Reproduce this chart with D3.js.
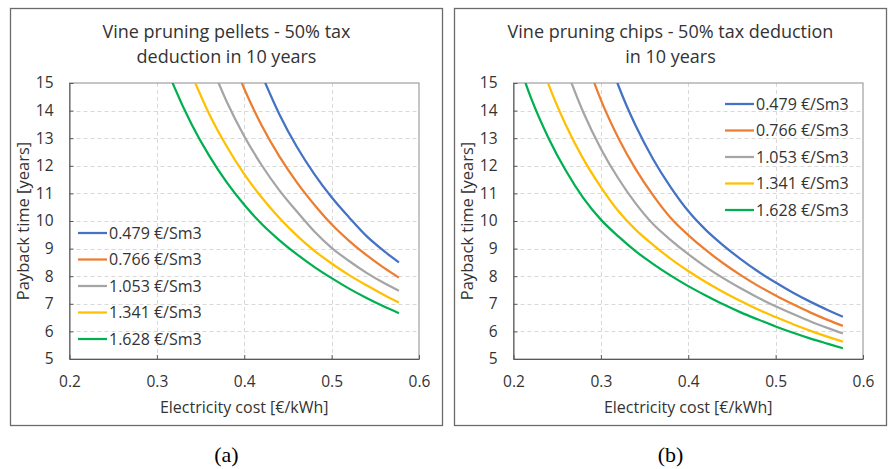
<!DOCTYPE html>
<html>
<head>
<meta charset="utf-8">
<script src="https://cdn.jsdelivr.net/npm/d3@7"></script>
<style>
  body { margin: 0; background: #fff; }
  svg { display: block; font-family: "Open Sans", sans-serif; }
</style>
</head>
<body>
<svg id="chart" width="888" height="469"></svg>
<script>

// values
var seriesNames  = ["0.479 €/Sm3", "0.766 €/Sm3", "1.053 €/Sm3", "1.341 €/Sm3", "1.628 €/Sm3"];
var seriesColors = ["#4472C4", "#ED7D31", "#A5A5A5", "#FFC000", "#00B050"];

var xTicks = [0.2, 0.3, 0.4, 0.5, 0.6];
var yTicks = [5, 6, 7, 8, 9, 10, 11, 12, 13, 14, 15];

// (a) pellets
var pelletsCost   = [0.30, 0.32, 0.34, 0.36, 0.38, 0.40, 0.42, 0.44, 0.46, 0.48, 0.50, 0.52, 0.54, 0.56, 0.577];
var pellets0479   = [null, null, null, null, null, null, 15.30, 13.88, 12.70, 11.71, 10.86, 10.13, 9.45, 8.91, 8.50];
var pellets0766   = [null, null, null, null, 16.41, 14.79, 13.46, 12.35, 11.41, 10.60, 9.88, 9.28, 8.76, 8.30, 7.95];
var pellets1053   = [null, null, null, 15.83, 14.32, 13.07, 12.02, 11.12, 10.35, 9.63, 9.03, 8.55, 8.12, 7.75, 7.47];
var pellets1341   = [null, null, 15.29, 13.87, 12.70, 11.70, 10.85, 10.12, 9.48, 8.93, 8.46, 8.04, 7.67, 7.32, 7.05];
var pellets1628   = [16.51, 14.85, 13.49, 12.36, 11.40, 10.59, 9.89, 9.31, 8.80, 8.34, 7.93, 7.55, 7.21, 6.90, 6.66];

// (b) chips
var chipsCost = [0.20, 0.22, 0.24, 0.26, 0.28, 0.30, 0.32, 0.34, 0.36, 0.38, 0.40, 0.42, 0.44, 0.46, 0.48, 0.50, 0.52, 0.54, 0.56, 0.577];
var chips0479 = [null, null, null, null, null, 16.75, 14.91, 13.44, 12.23, 11.22, 10.36, 9.68, 9.12, 8.62, 8.17, 7.77, 7.40, 7.07, 6.77, 6.53];
var chips0766 = [null, null, null, null, 16.10, 14.39, 13.01, 11.87, 10.92, 10.11, 9.49, 8.95, 8.47, 8.04, 7.65, 7.30, 6.98, 6.68, 6.41, 6.20];
var chips1053 = [null, null, null, 15.53, 13.93, 12.62, 11.54, 10.63, 9.88, 9.31, 8.80, 8.34, 7.93, 7.56, 7.22, 6.91, 6.63, 6.36, 6.12, 5.93];
var chips1341 = [null, 16.83, 14.96, 13.47, 12.24, 11.23, 10.36, 9.68, 9.13, 8.63, 8.19, 7.79, 7.43, 7.10, 6.79, 6.52, 6.26, 6.02, 5.80, 5.63];
var chips1628 = [16.28, 14.46, 13.01, 11.82, 10.83, 10.05, 9.44, 8.90, 8.44, 8.02, 7.64, 7.30, 6.98, 6.69, 6.43, 6.18, 5.95, 5.74, 5.55, 5.39];


var svg = d3.select("#chart");

function drawPanel(ox, id, titleLines, xs, series, legend, caption){

  var g = svg.append("g").attr("transform", "translate(" + ox + ",0)");

  // outer frame
  g.append("rect")
    .attr("x", 10.5).attr("y", 8.5)
    .attr("width", 432).attr("height", 417)
    .attr("fill", "none")
    .attr("stroke", "#6b6b6b")
    .attr("stroke-width", 1.3);

  var left = 69.5, right = 419, top = 83, bottom = 359;

  var x = d3.scaleLinear().domain([0.2, 0.6]).range([left, right]);
  var y = d3.scaleLinear().domain([5, 15]).range([bottom, top]);

  // title
  var t = g.append("text")
    .attr("x", 226.5)
    .attr("text-anchor", "middle")
    .attr("font-size", 18)
    .attr("fill", "#333");
  titleLines.forEach(function(line, i){
    t.append("tspan").attr("x", 226.5).attr("y", 38 + i * 24.5).text(line);
  });

  // grid
  var grid = g.append("g")
    .attr("stroke", "#d9d9d9")
    .attr("stroke-width", 1)
    .attr("stroke-dasharray", "4,3");
  grid.selectAll("line.h")
    .data(yTicks.slice(1, -1))
    .enter().append("line")
      .attr("x1", left).attr("x2", right)
      .attr("y1", function(d){ return Math.round(y(d)) + 0.5; })
      .attr("y2", function(d){ return Math.round(y(d)) + 0.5; });
  grid.selectAll("line.v")
    .data(xTicks.slice(1, -1))
    .enter().append("line")
      .attr("y1", top).attr("y2", bottom)
      .attr("x1", function(d){ return Math.round(x(d)) + 0.5; })
      .attr("x2", function(d){ return Math.round(x(d)) + 0.5; });

  // plot area border
  g.append("rect")
    .attr("x", left).attr("y", top)
    .attr("width", right - left).attr("height", bottom - top)
    .attr("fill", "none")
    .attr("stroke", "#8c8c8c")
    .attr("stroke-width", 1);

  // axes
  var xAxis = g.append("g")
    .attr("transform", "translate(0," + bottom + ")")
    .call(d3.axisBottom(x).tickValues(xTicks).tickFormat(d3.format(".1f"))
      .tickSizeInner(-4).tickSizeOuter(0).tickPadding(17));
  var yAxis = g.append("g")
    .attr("transform", "translate(" + left + ",0)")
    .call(d3.axisLeft(y).tickValues(yTicks).tickFormat(d3.format("d"))
      .tickSizeInner(-4).tickSizeOuter(0).tickPadding(16));

  [xAxis, yAxis].forEach(function(a){
    a.select(".domain").attr("stroke", "#595959");
    a.selectAll(".tick line").attr("stroke", "#595959");
    a.selectAll("text")
      .attr("font-family", "Open Sans, sans-serif")
      .attr("font-size", 15.5)
      .attr("fill", "#333");
  });

  g.append("text")
    .attr("x", (left + right) / 2)
    .attr("y", 413)
    .attr("text-anchor", "middle")
    .attr("font-size", 16)
    .attr("fill", "#333")
    .text("Electricity cost [€/kWh]");

  g.append("text")
    .attr("transform", "translate(29," + ((top + bottom) / 2) + ") rotate(-90)")
    .attr("text-anchor", "middle")
    .attr("font-size", 16.5)
    .attr("fill", "#333")
    .text("Payback time [years]");

  // curves, clipped to the plot area like the spreadsheet does
  g.append("clipPath").attr("id", "clip" + id)
    .append("rect")
      .attr("x", left).attr("y", top)
      .attr("width", right - left).attr("height", bottom - top);

  var line = d3.line()
    .defined(function(d){ return d[1] != null; })
    .x(function(d){ return x(d[0]); })
    .y(function(d){ return y(d[1]); })
    .curve(d3.curveMonotoneX);

  var curves = g.append("g").attr("clip-path", "url(#clip" + id + ")");
  series.forEach(function(vals, i){
    var pts = xs.map(function(c, j){ return [c, vals[j]]; });
    curves.append("path")
      .datum(pts)
      .attr("fill", "none")
      .attr("stroke", seriesColors[i])
      .attr("stroke-width", 2.25)
      .attr("stroke-linejoin", "round")
      .attr("d", line);
  });

  // legend
  var lg = g.append("g");
  seriesNames.forEach(function(name, i){
    var ly = legend.y + i * 26.5;
    lg.append("line")
      .attr("x1", legend.x).attr("x2", legend.x + 29)
      .attr("y1", ly).attr("y2", ly)
      .attr("stroke", seriesColors[i])
      .attr("stroke-width", 2.25);
    lg.append("text")
      .attr("x", legend.x + 31)
      .attr("y", ly)
      .attr("dy", "0.36em")
      .attr("font-size", 16)
      .attr("fill", "#333")
      .text(name);
  });

  // sub-figure label
  g.append("text")
    .attr("x", 226.5)
    .attr("y", 462)
    .attr("text-anchor", "middle")
    .attr("font-family", "Liberation Serif, serif")
    .attr("font-size", 22)
    .attr("fill", "#000")
    .text(caption);
}

drawPanel(0, "a", ["Vine pruning pellets - 50% tax", "deduction in 10 years"], pelletsCost,
  [pellets0479, pellets0766, pellets1053, pellets1341, pellets1628],
  {x: 78, y: 233}, "(a)");

drawPanel(444, "b", ["Vine pruning chips - 50% tax deduction", "in 10 years"], chipsCost,
  [chips0479, chips0766, chips1053, chips1341, chips1628],
  {x: 281, y: 104}, "(b)");

</script>
</body>
</html>
